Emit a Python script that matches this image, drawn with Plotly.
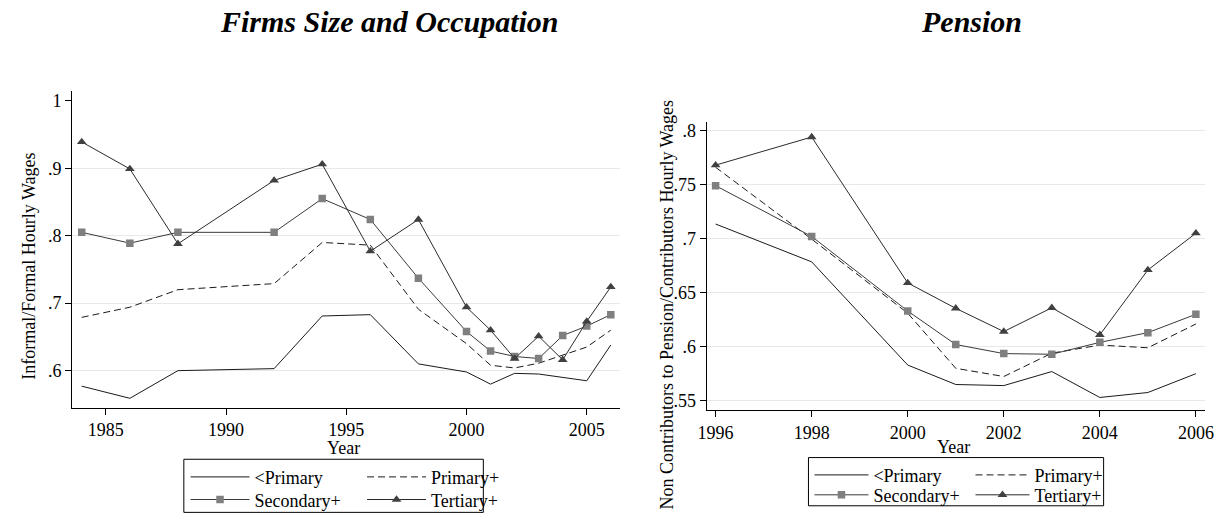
import plotly.graph_objects as go

W, H = 1227, 529
FONT = "Liberation Serif"

# ---------------- data: left panel (Firms Size and Occupation) ----------------
years_left = [1984, 1986, 1988, 1992, 1994, 1996, 1998, 2000, 2001, 2002, 2003, 2004, 2005, 2006]
left_lt_primary = [0.577, 0.559, 0.600, 0.603, 0.681, 0.683, 0.610, 0.598, 0.580, 0.596, 0.595, 0.590, 0.585, 0.638]
left_primary    = [0.679, 0.694, 0.720, 0.729, 0.790, 0.786, 0.691, 0.640, 0.608, 0.604, 0.611, 0.623, 0.635, 0.660]
left_secondary  = [0.805, 0.789, 0.805, 0.805, 0.855, 0.824, 0.737, 0.658, 0.629, 0.621, 0.618, 0.652, 0.666, 0.683]
left_tertiary   = [0.939, 0.899, 0.788, 0.882, 0.906, 0.777, 0.824, 0.694, 0.660, 0.618, 0.651, 0.616, 0.673, 0.724]

# ---------------- data: right panel (Pension) ----------------
years_right = [1996, 1998, 2000, 2001, 2002, 2003, 2004, 2005, 2006]
right_lt_primary = [0.7135, 0.6785, 0.583, 0.565, 0.564, 0.577, 0.553, 0.5576, 0.575]
right_primary    = [0.766, 0.6995, 0.631, 0.580, 0.5724, 0.594, 0.6015, 0.599, 0.621]
right_secondary  = [0.749, 0.702, 0.633, 0.602, 0.5936, 0.593, 0.604, 0.613, 0.630]
right_tertiary   = [0.768, 0.794, 0.659, 0.6355, 0.614, 0.636, 0.611, 0.671, 0.705]

series_names = ["<Primary", "Primary+", "Secondary+", "Tertiary+"]

left_xticks = [1985, 1990, 1995, 2000, 2005]
left_yticks = [0.6, 0.7, 0.8, 0.9, 1.0]
left_yticktext = [".6", ".7", ".8", ".9", "1"]
right_xticks = [1996, 1998, 2000, 2002, 2004, 2006]
right_yticks = [0.55, 0.6, 0.65, 0.7, 0.75, 0.8]
right_yticktext = [".55", ".6", ".65", ".7", ".75", ".8"]

titles = ["<b><i>Firms Size and Occupation</i></b>", "<b><i>Pension</i></b>"]
ytitles = ["Informal/Formal Hourly Wages", "Non Contributors to Pension/Contributors Hourly Wages"]


def fx(px):
    return px / W


def fy(py):
    return 1 - py / H


styles = {
    "<Primary": dict(mode="lines", line=dict(color="#1a1a1a", width=1)),
    "Primary+": dict(mode="lines", line=dict(color="#1a1a1a", width=1, dash="7px,4px")),
    "Secondary+": dict(mode="lines+markers", line=dict(color="#3a3a3a", width=1),
                       marker=dict(symbol="square", size=7.5, color="#7f7f7f", line=dict(width=0))),
    "Tertiary+": dict(mode="lines+markers", line=dict(color="#2a2a2a", width=1),
                      marker=dict(symbol="triangle-up", size=8.5, color="#404040", line=dict(width=0))),
}

fig = go.Figure()

left_vals = [left_lt_primary, left_primary, left_secondary, left_tertiary]
right_vals = [right_lt_primary, right_primary, right_secondary, right_tertiary]

# legend placement (pixels): (line start x, row y)
left_leg_pos = [(184, 478), (363, 478), (184, 500.7), (363, 500.7)]
right_leg_pos = [(816.7, 476), (980, 476), (816.7, 496), (980, 496)]

legend_layouts = {}
n = 1
for panel, (yrs, vals, pos, iw, xa, ya) in enumerate([
        (years_left, left_vals, left_leg_pos, 59, "x", "y"),
        (years_right, right_vals, right_leg_pos, 54, "x2", "y2")]):
    for name, v, (lx, ly) in zip(series_names, vals, pos):
        lid = "legend" if n == 1 else f"legend{n}"
        fig.add_trace(go.Scatter(x=yrs, y=v, name=name, xaxis=xa, yaxis=ya,
                                 legend=lid, showlegend=True, **styles[name]))
        legend_layouts[lid] = dict(
            x=fx(lx - 5), xanchor="left", y=fy(ly), yanchor="middle",
            bgcolor="rgba(0,0,0,0)", borderwidth=0, itemwidth=iw,
            font=dict(family=FONT, size=18, color="black"),
            orientation="v", tracegroupgap=0,
        )
        n += 1

axis_common = dict(showline=True, linecolor="black", linewidth=1, ticks="outside",
                   ticklen=6, tickcolor="black", tickwidth=1, zeroline=False,
                   tickfont=dict(family=FONT, size=18, color="black"))

grid_col = "#e8e8e8"

fig.update_layout(
    width=W, height=H,
    margin=dict(l=0, r=0, t=0, b=0),
    paper_bgcolor="white", plot_bgcolor="white",
    xaxis=dict(domain=[fx(64), fx(620)], range=[1983.6, 2006.4], tickvals=left_xticks,
               showgrid=False, anchor="y", **axis_common),
    yaxis=dict(domain=[fy(408.3), fy(90)], range=[0.545, 1.015], tickvals=left_yticks,
               ticktext=left_yticktext, showgrid=False, anchor="x",
               minor=dict(tickvals=left_yticks[:-1], showgrid=True, gridcolor=grid_col,
                          gridwidth=1, ticks=""),
               **axis_common),
    xaxis2=dict(domain=[fx(707.3), fx(1213.3)], range=[1995.81, 2006.2], tickvals=right_xticks,
                showgrid=False, anchor="y2", **axis_common),
    yaxis2=dict(domain=[fy(411), fy(121.7)], range=[0.541, 0.8077], tickvals=right_yticks,
                ticktext=right_yticktext, showgrid=True, gridcolor=grid_col, gridwidth=1,
                anchor="x2", **axis_common),
    showlegend=True,
    **legend_layouts,
)

annotations = [
    dict(text=titles[0], x=fx(386), y=fy(21)),
    dict(text=titles[1], x=fx(976), y=fy(21)),
]
for a in annotations:
    a.update(xref="paper", yref="paper", xanchor="center", yanchor="middle", showarrow=False,
             font=dict(family=FONT, size=30, color="black"))

more = [
    dict(text="Year", x=fx(339), y=fy(448.5), textangle=0),
    dict(text="Year", x=fx(958), y=fy(448), textangle=0),
    dict(text=ytitles[0], x=fx(20), y=fy(266), textangle=-90),
    dict(text=ytitles[1], x=fx(667), y=fy(305), textangle=-90),
]
for a in more:
    a.update(xref="paper", yref="paper", xanchor="center", yanchor="middle", showarrow=False,
             font=dict(family=FONT, size=18, color="black"))

fig.update_layout(annotations=annotations + more)

# legend frames
fig.add_shape(type="rect", xref="paper", yref="paper", x0=fx(177.3), x1=fx(481), y0=fy(513.3), y1=fy(460),
              line=dict(color="black", width=1), fillcolor="rgba(0,0,0,0)")
fig.add_shape(type="rect", xref="paper", yref="paper", x0=fx(810.7), x1=fx(1110), y0=fy(506.7), y1=fy(458.3),
              line=dict(color="black", width=1), fillcolor="rgba(0,0,0,0)")

fig.write_html("out.html", config={"displayModeBar": False},
               post_script="document.body.style.margin='0';document.body.style.overflow='hidden';")
